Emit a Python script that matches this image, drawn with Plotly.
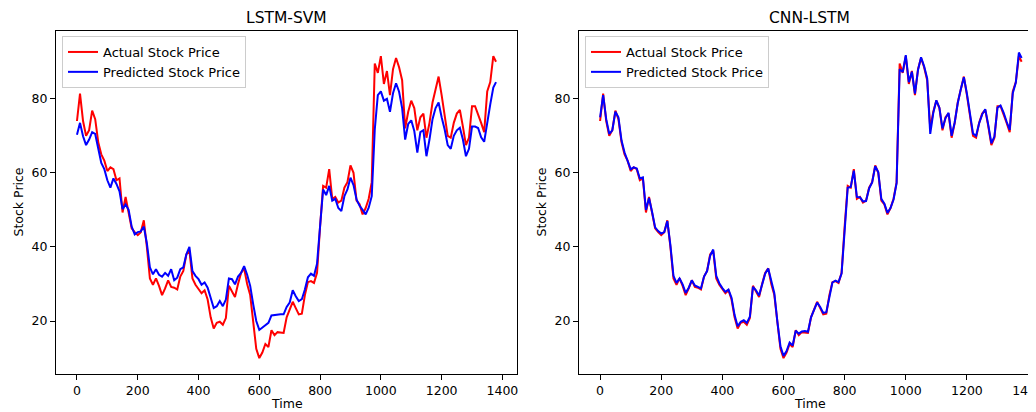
import plotly.graph_objects as go

# Time index (every 10 steps, plus the final step)
time = list(range(0, 1380, 10)) + [1379]

actual_price = [
    74.0, 81.4, 74.0, 70.0, 71.5, 76.8, 74.5, 68.3, 65.0, 63.3,
    60.5, 61.5, 61.0, 58.0, 58.5, 49.3, 53.5, 49.0, 45.0, 44.0,
    43.2, 44.0, 47.2, 40.0, 31.5, 29.8, 31.5, 29.5, 27.0, 28.8,
    31.0, 29.2, 29.0, 28.5, 32.0, 33.5, 38.0, 39.0, 31.5, 29.8,
    28.5, 27.5, 28.3, 25.8, 21.0, 18.0, 19.5, 19.8, 19.0, 20.8,
    29.5, 28.0, 26.5, 30.0, 33.0, 34.2, 30.0, 27.0, 19.0, 12.5,
    10.0, 11.5, 13.8, 13.0, 17.5, 16.2, 17.0, 17.0, 16.8, 21.0,
    23.0, 25.2, 23.5, 21.8, 22.0, 27.0, 30.5, 30.8, 30.3, 33.0,
    45.5, 56.5, 56.0, 61.0, 53.0, 53.5, 52.0, 52.5, 56.0, 57.5,
    62.0, 60.0, 52.5, 51.5, 48.8, 50.5, 53.0, 57.5, 89.5, 87.0,
    91.5, 84.0, 87.5, 81.0, 88.0, 91.0, 88.5, 85.0, 72.0, 76.5,
    79.5, 77.5, 71.5, 75.0, 76.0, 69.5, 73.5, 79.0, 82.5, 86.0,
    81.0, 76.0, 70.0, 69.5, 73.5, 76.0, 77.0, 72.5, 67.5, 69.5,
    78.0, 78.0, 76.0, 73.5, 71.0, 82.0, 84.5, 91.5, 90.0,
]

lstm_svm_pred = [
    70.3, 73.5, 69.9, 67.5, 69.0, 71.0, 70.5, 66.5, 62.7, 61.0,
    58.0, 56.0, 58.5, 57.0, 55.0, 50.2, 51.5, 50.0, 45.5, 43.4,
    44.0, 44.2, 45.5, 41.0, 34.5, 32.6, 34.0, 32.5, 32.0, 33.0,
    32.2, 34.0, 31.0, 31.7, 34.0, 34.5, 38.0, 40.0, 33.5, 32.2,
    31.3, 29.8, 30.4, 29.0, 26.5, 23.5, 24.0, 25.4, 24.0, 25.8,
    31.5, 31.3, 29.9, 32.0, 33.0, 34.8, 32.5, 29.5, 24.5, 20.0,
    17.6, 18.2, 18.7, 19.5, 21.5, 21.6, 21.8, 21.8, 21.8, 23.8,
    25.0, 28.3, 26.7, 25.4, 25.9, 28.5, 31.8, 32.8, 32.2, 35.5,
    45.6, 55.5, 54.0, 56.5, 52.5, 53.0, 50.5, 49.7, 53.7, 55.5,
    58.7, 56.7, 52.8, 51.1, 50.0, 48.8, 50.6, 53.7, 71.7, 81.0,
    82.0, 79.5, 80.0, 76.5, 81.5, 84.2, 81.9, 77.5, 69.0, 73.2,
    74.2, 71.3, 65.5, 71.0, 71.5, 64.5, 69.0, 74.5, 77.5, 79.0,
    75.0, 71.7, 67.5, 66.5, 70.0, 71.5, 72.2, 69.0, 64.5, 66.5,
    72.5, 72.5, 72.1, 69.6, 68.4, 74.0, 78.5, 83.0, 84.5,
]

cnn_lstm_pred = [
    75.0, 81.0, 74.5, 70.5, 71.5, 76.5, 75.0, 68.8, 65.5, 63.5,
    61.0, 61.5, 61.2, 58.5, 58.8, 50.0, 53.2, 49.5, 45.3, 44.3,
    43.6, 44.0, 47.0, 40.5, 32.2, 30.3, 31.5, 29.9, 27.6, 29.0,
    31.0, 29.6, 29.3, 28.8, 32.0, 33.5, 37.6, 39.3, 32.2, 30.2,
    28.9, 27.9, 28.5, 26.3, 21.6, 18.6, 19.8, 20.2, 19.5, 21.2,
    29.2, 28.3, 26.9, 30.0, 32.8, 34.2, 30.5, 27.5, 19.8, 13.2,
    10.6, 11.9, 14.2, 13.4, 17.4, 16.6, 17.2, 17.3, 17.1, 21.0,
    23.0, 25.0, 23.8, 22.2, 22.4, 26.8, 30.4, 30.9, 30.5, 32.8,
    45.0, 56.0, 56.2, 60.6, 53.5, 53.4, 52.3, 52.4, 55.8, 57.4,
    61.8, 60.2, 53.0, 51.7, 49.2, 50.5, 52.8, 57.2, 88.0, 87.2,
    91.8, 84.5, 87.3, 81.4, 87.8, 91.2, 88.8, 85.5, 70.5, 76.2,
    79.6, 77.6, 72.0, 74.8, 76.2, 70.0, 73.6, 78.8, 82.6, 85.8,
    81.4, 76.3, 70.6, 70.0, 73.4, 75.8, 77.2, 72.9, 68.0, 69.8,
    77.6, 78.2, 76.3, 73.8, 71.6, 81.5, 84.4, 92.5, 91.0,
]

x_ticks = [0, 200, 400, 600, 800, 1000, 1200, 1400]
y_ticks = [20, 40, 60, 80]
titles = ["LSTM-SVM", "CNN-LSTM"]
series_names = ["Actual Stock Price", "Predicted Stock Price"]

# The page body adds an 8px margin; the figure fills the rest of the 1036x412 window.
OFF = 8
W, H = 1036 - OFF, 412 - OFF
FONT = "DejaVu Sans"

def px_x(s):
    return (s - OFF) / W

def px_y(s):
    return (H - (s - OFF)) / H

fig = go.Figure()

lw = 2.0
fig.add_trace(go.Scatter(x=time, y=actual_price, mode="lines", name=series_names[0],
                         line=dict(color="red", width=lw), xaxis="x", yaxis="y", legend="legend"))
fig.add_trace(go.Scatter(x=time, y=lstm_svm_pred, mode="lines", name=series_names[1],
                         line=dict(color="blue", width=lw), xaxis="x", yaxis="y", legend="legend"))
fig.add_trace(go.Scatter(x=time, y=actual_price, mode="lines", name=series_names[0],
                         line=dict(color="red", width=lw), xaxis="x2", yaxis="y2", legend="legend2"))
fig.add_trace(go.Scatter(x=time, y=cnn_lstm_pred, mode="lines", name=series_names[1],
                         line=dict(color="blue", width=lw), xaxis="x2", yaxis="y2", legend="legend2"))

ax_top, ax_bot = 31, 374
L1, R1 = 56, 517
L2 = 579
ydom = [px_y(ax_bot), px_y(ax_top)]
yrange = [5.7, 98.3]

common_x = dict(tickmode="array", tickvals=x_ticks, ticks="outside", ticklen=5, tickwidth=1,
                tickcolor="black", showgrid=False, zeroline=False, showline=True, linecolor="black",
                linewidth=1, ticklabeloverflow="allow",
                tickfont=dict(family=FONT, size=12.5, color="black"))
common_y = dict(tickmode="array", tickvals=y_ticks, ticks="outside", ticklen=5, tickwidth=1,
                tickcolor="black", showgrid=False, zeroline=False, showline=True, linecolor="black",
                linewidth=1, tickfont=dict(family=FONT, size=12.5, color="black"), range=yrange)

legend_style = dict(font=dict(family=FONT, size=13, color="black"), bgcolor="rgba(255,255,255,0.85)",
                    bordercolor="#cccccc", borderwidth=1, xanchor="left", yanchor="top",
                    itemwidth=30, tracegroupgap=0)

fig.update_layout(
    width=W, height=H, margin=dict(l=0, r=0, t=0, b=0, autoexpand=False),
    paper_bgcolor="white", plot_bgcolor="white", showlegend=True,
    xaxis=dict(domain=[px_x(L1), px_x(R1)], range=[-69, 1448], mirror=True, anchor="y", **common_x),
    yaxis=dict(domain=ydom, mirror=True, anchor="x", **common_y),
    xaxis2=dict(domain=[px_x(L2), 1.0], range=[-69, 1426], mirror=True, anchor="y2", **common_x),
    yaxis2=dict(domain=ydom, anchor="x2", **common_y),
    legend=dict(x=px_x(62), y=px_y(36), **legend_style),
    legend2=dict(x=px_x(585), y=px_y(36), **legend_style),
)

annotations = []
centers = [(L1 + R1) / 2, (L2 + 1040) / 2]
ylab_x = [18, 541]
for i in range(2):
    annotations.append(dict(text=titles[i], x=px_x(centers[i]), y=px_y(18), xref="paper", yref="paper",
                            showarrow=False, xanchor="center", yanchor="middle",
                            font=dict(family=FONT, size=15.5, color="black")))
    annotations.append(dict(text="Time", x=px_x(centers[i]), y=px_y(403), xref="paper", yref="paper",
                            showarrow=False, xanchor="center", yanchor="middle",
                            font=dict(family=FONT, size=12.5, color="black")))
    annotations.append(dict(text="Stock Price", x=px_x(ylab_x[i]), y=px_y((ax_top + ax_bot) / 2),
                            xref="paper", yref="paper", showarrow=False, textangle=-90,
                            xanchor="center", yanchor="middle",
                            font=dict(family=FONT, size=12.5, color="black")))
fig.update_layout(annotations=annotations)

fig.write_html("out.html")
